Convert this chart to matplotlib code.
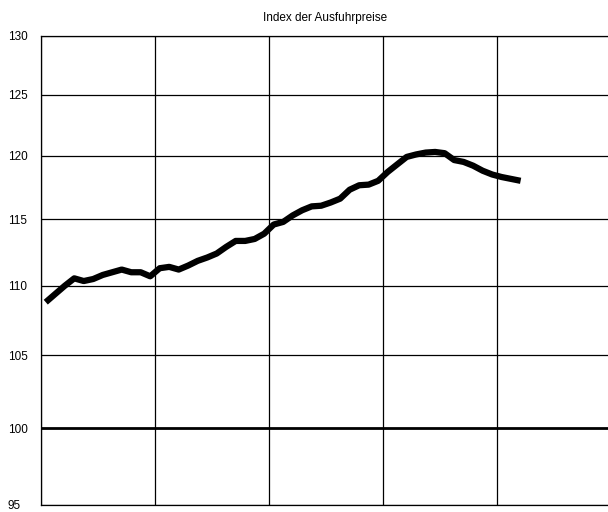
import numpy as np
import matplotlib
matplotlib.use("Agg")
import matplotlib.pyplot as plt
from matplotlib.ticker import FixedLocator, FixedFormatter, NullLocator

# --- data: monthly export price index ---
months = np.arange(51)
index_values = [
	108.8, 109.4, 110.0, 110.55, 110.35, 110.5, 110.8, 111.0, 111.2, 111.0,
	111.0, 110.7, 111.3, 111.4, 111.2, 111.5, 111.85, 112.1, 112.4, 112.9,
	113.35, 113.35, 113.5, 113.9, 114.6, 114.8, 115.3, 115.7, 116.0, 116.05,
	116.3, 116.6, 117.3, 117.65, 117.7, 118.0, 118.7, 119.3, 119.9, 120.1,
	120.25, 120.3, 120.2, 119.65, 119.5, 119.2, 118.8, 118.5, 118.3, 118.15,
	118.0,
]
y_ticks = [95, 100, 105, 110, 115, 120, 125, 130]
y_labels = ["95", "100", "105", "110", "115", "120", "125", "130"]
year_bounds = [0, 12, 24, 36, 48]
title = "Index der Ausfuhrpreise"

plt.rcParams['font.family'] = ['Liberation Sans', 'DejaVu Sans']

fig = plt.figure(figsize=(6.08, 5.12), dpi=100)
ax = fig.add_axes([41 / 608, 1 - 505 / 512, 1 - 41 / 608, (505 - 36) / 512])

ax.set_yscale('log')
ax.set_ylim(95, 130)
ax.set_xlim(0, 59.7)

# grid
for yv in y_ticks:
	ax.axhline(yv, color='black', lw=2.0 if yv == 100 else 0.9, zorder=1)
for xv in year_bounds:
	ax.axvline(xv, color='black', lw=0.9, zorder=1)

ax.plot(months + 0.5, index_values, color='black', lw=4.5,
	solid_capstyle='butt', solid_joinstyle='round', zorder=3)

ax.yaxis.set_major_locator(FixedLocator(y_ticks))
ax.yaxis.set_major_formatter(FixedFormatter(y_labels))
ax.yaxis.set_minor_locator(NullLocator())
ax.xaxis.set_major_locator(NullLocator())
ax.xaxis.set_minor_locator(NullLocator())
ax.tick_params(axis='y', length=0, pad=24, labelsize=8.5)
for t in ax.get_yticklabels():
	t.set_horizontalalignment('left')

for side in ['left', 'top', 'bottom']:
	ax.spines[side].set_linewidth(0.9)
ax.spines['right'].set_visible(False)

fig.text(325 / 608, 1 - 18 / 512, title, ha='center', va='center', fontsize=8.5)

fig.savefig('out.png', dpi=100)
